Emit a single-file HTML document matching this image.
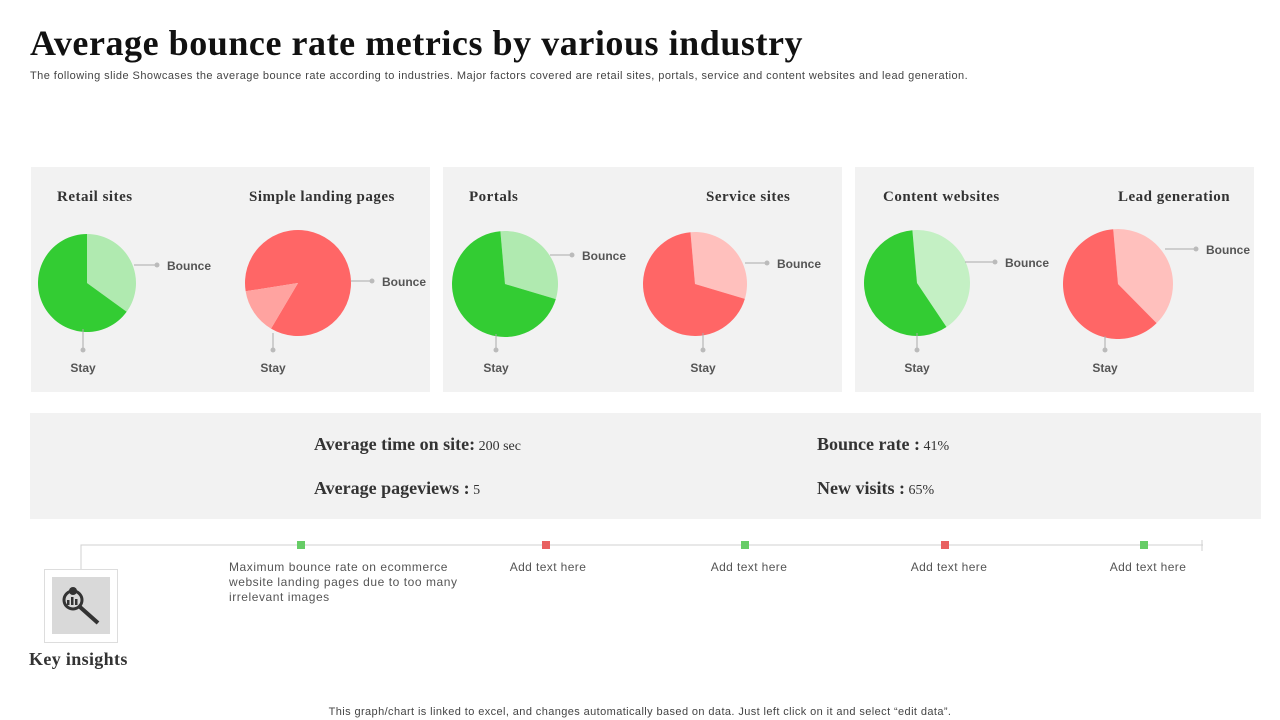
<!DOCTYPE html>
<html><head><meta charset="utf-8"><style>
html,body{margin:0;padding:0;background:#fff;width:1280px;height:720px;overflow:hidden}
svg{display:block}
.serif{font-family:"Liberation Serif",serif}
.sans{font-family:"Liberation Sans",sans-serif}
</style></head><body>
<svg id="page" width="1280" height="720" viewBox="0 0 1280 720">
<text x="30" y="55" class="serif" font-size="36" font-weight="bold" fill="#111" letter-spacing="0.55">Average bounce rate metrics by various industry</text>
<text x="30" y="79" class="sans" font-size="11" fill="#444" letter-spacing="0.45">The following slide Showcases the average bounce rate according to industries. Major factors covered are retail sites, portals, service and content websites and lead generation.</text>
<rect x="31" y="167" width="399" height="225" fill="#f2f2f2"/>
<rect x="443" y="167" width="399" height="225" fill="#f2f2f2"/>
<rect x="855" y="167" width="399" height="225" fill="#f2f2f2"/>
<g id="pies"></g>
<rect x="30" y="413" width="1231" height="106" fill="#f2f2f2"/>
<text x="314" y="450" class="serif" fill="#333"><tspan font-size="18" font-weight="bold">Average time on site:</tspan><tspan font-size="14"> 200 sec</tspan></text>
<text x="314" y="494" class="serif" fill="#333"><tspan font-size="18" font-weight="bold">Average pageviews :</tspan><tspan font-size="14"> 5</tspan></text>
<text x="817" y="450" class="serif" fill="#333"><tspan font-size="18" font-weight="bold">Bounce rate :</tspan><tspan font-size="14"> 41%</tspan></text>
<text x="817" y="494" class="serif" fill="#333"><tspan font-size="18" font-weight="bold">New visits :</tspan><tspan font-size="14"> 65%</tspan></text>
<path d="M81 569 V545 H1203 M1202 540 V551" stroke="#d0d0d0" stroke-width="1" fill="none"/>
<g id="timeline"></g>
<text class="sans" font-size="12" fill="#555" letter-spacing="0.55"><tspan x="229" y="571">Maximum bounce rate on ecommerce</tspan><tspan x="229" y="586">website landing pages due to too many</tspan><tspan x="229" y="601">irrelevant  images</tspan></text>
<rect x="44.5" y="569.5" width="73" height="73" fill="#fff" stroke="#ddd"/>
<rect x="52" y="577" width="58" height="57" fill="#d9d9d9"/>
<g>
<circle cx="73" cy="600" r="9" fill="none" stroke="#333" stroke-width="3"/>
<line x1="80" y1="607" x2="98" y2="623" stroke="#333" stroke-width="4"/>
<rect x="67" y="600" width="2.5" height="5" fill="#333"/><rect x="71" y="597" width="2.5" height="8" fill="#333"/><rect x="75" y="599" width="2.5" height="6" fill="#333"/>
<circle cx="73" cy="591" r="4" fill="#333"/>
</g>
<text x="29" y="665" class="serif" font-size="18" font-weight="bold" fill="#333" letter-spacing="0.35">Key insights</text>
<text x="640" y="715" text-anchor="middle" class="sans" font-size="11" fill="#444" letter-spacing="0.4">This graph/chart is linked to excel, and changes automatically based on data. Just left click on it and select “edit data”.</text>
</svg>
<script>
const titles = ["Retail sites","Simple landing pages","Portals","Service sites","Content websites","Lead generation"];
const bounceValues = [35, 86, 31, 31, 42, 39];
const stayValues = [65, 14, 69, 69, 58, 61];
const startAngles = [0, 261, -5, -5, -5, -5];
const timelineLabels = ["", "Add text here", "Add text here", "Add text here", "Add text here"];

const NS = "http://www.w3.org/2000/svg";
const layout = [
 {cx:87,cy:283,r:49,tx:57,dark:"#33cc33",light:"#b0eab0",by:265,bx1:134,bx2:157,stx:83},
 {cx:298,cy:283,r:53,tx:249,dark:"#ffa3a0",light:"#ff6666",by:281,bx1:351,bx2:372,stx:273},
 {cx:505,cy:284,r:53,tx:469,dark:"#33cc33",light:"#b0eab0",by:255,bx1:550,bx2:572,stx:496},
 {cx:695,cy:284,r:52,tx:706,dark:"#ff6666",light:"#ffc0bd",by:263,bx1:745,bx2:767,stx:703},
 {cx:917,cy:283,r:53,tx:883,dark:"#33cc33",light:"#c4f0c4",by:262,bx1:965,bx2:995,stx:917},
 {cx:1118,cy:284,r:55,tx:1118,dark:"#ff6666",light:"#ffc0bd",by:249,bx1:1165,bx2:1196,stx:1105}
];
function mk(tag, attrs, parent){const e=document.createElementNS(NS,tag);for(const k in attrs)e.setAttribute(k,attrs[k]);parent.appendChild(e);return e;}
function pt(cx,cy,r,deg){const a=(deg-90)*Math.PI/180;return [cx+r*Math.cos(a),cy+r*Math.sin(a)];}
function arc(cx,cy,r,a0,a1){const p0=pt(cx,cy,r,a0),p1=pt(cx,cy,r,a1);const large=(a1-a0)>180?1:0;return `M${cx} ${cy} L${p0[0]} ${p0[1]} A${r} ${r} 0 ${large} 1 ${p1[0]} ${p1[1]} Z`;}
const pies=document.getElementById('pies');
titles.forEach((t,i)=>{
 const L=layout[i];
 const g=mk('g',{},pies);
 
 
 const tt=mk('text',{x:L.tx,y:201,'class':'serif','font-size':15,'font-weight':'bold',fill:'#333','letter-spacing':0.5},g);
 tt.textContent=t;
 
 
 const total=bounceValues[i]+stayValues[i];
 const a0=startAngles[i], a1=a0+bounceValues[i]/total*360, a2=a0+360;
 const sb=mk('path',{d:arc(L.cx,L.cy,L.r,a0,a1),fill:L.light},g);
 
 
 const ss=mk('path',{d:arc(L.cx,L.cy,L.r,a1,a2),fill:L.dark},g);
 
 
 mk('line',{x1:L.bx1,y1:L.by,x2:L.bx2,y2:L.by,stroke:'#aaa'},g);
 mk('circle',{cx:L.bx2,cy:L.by,r:2.5,fill:'#bbb'},g);
 const bl=mk('text',{x:L.bx2+10,y:L.by+5,'class':'sans','font-size':12,'font-weight':'bold',fill:'#555'},g);
 bl.textContent='Bounce';
 
 
 mk('line',{x1:L.stx,y1:L.cy+L.r-3,x2:L.stx,y2:350,stroke:'#aaa'},g);
 mk('circle',{cx:L.stx,cy:350,r:2.5,fill:'#bbb'},g);
 const sl=mk('text',{x:L.stx,y:372,'text-anchor':'middle','class':'sans','font-size':12,'font-weight':'bold',fill:'#555'},g);
 sl.textContent='Stay';
 
 
});
const tl=document.getElementById('timeline');
const mx=[301,546,745,945,1144], tx=[0,548,749,949,1148];
timelineLabels.forEach((lab,i)=>{
 const m=mk('rect',{x:mx[i]-4,y:541,width:8,height:8,fill:i%2?'#e86060':'#66cc66'},tl);
 
 
 if(lab){
  const t=mk('text',{x:tx[i],y:571,'text-anchor':'middle','class':'sans','font-size':12,fill:'#555','letter-spacing':0.4},tl);
  t.textContent=lab;
  
  
 }
});
</script>
</body></html>
